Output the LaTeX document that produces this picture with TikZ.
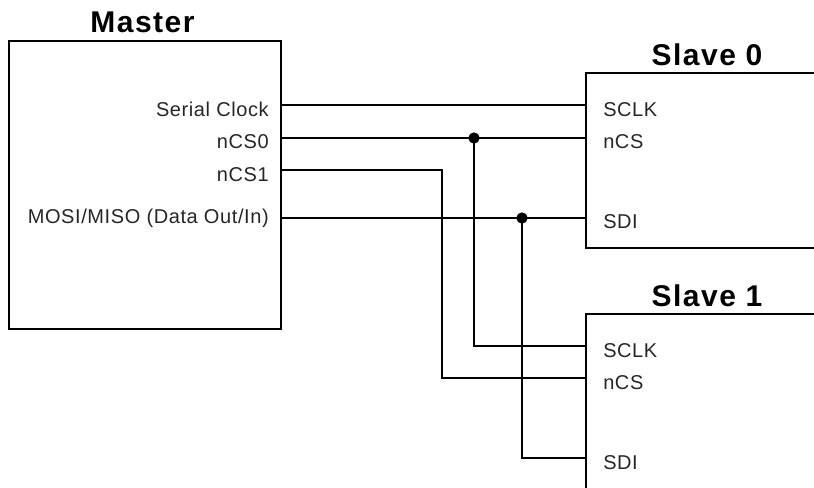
\documentclass[tikz,border=0pt]{standalone}
\usepackage{fontspec}
\setmainfont{Liberation Sans}
\newfontfamily\lblfont[LetterSpace=3]{Liberation Sans}
\newfontfamily\ttlfont[LetterSpace=5]{Liberation Sans}
\begin{document}
\begin{tikzpicture}[x=0.75pt,y=-0.75pt,
  box/.style={draw, line width=1.4pt, inner sep=0pt, outer sep=0pt, anchor=north west},
  ttl/.style={font=\ttlfont\bfseries\fontsize{22.5}{26}\selectfont, anchor=base, inner sep=0pt},
  lblR/.style={font=\lblfont\fontsize{15}{18}\selectfont, anchor=base east, inner sep=0pt, text=black!85},
  lblL/.style={font=\lblfont\fontsize{15}{18}\selectfont, anchor=base west, inner sep=0pt, text=black!85},
  wire/.style={draw, line width=1.4pt},
  jdot/.style={circle, fill=black, inner sep=0pt, minimum size=8.5pt}]
\clip (0,0) rectangle (814,487);
\fill[white] (0,0) rectangle (814,487);
% boxes
\node[box, minimum width=204pt, minimum height=216pt] (master) at (9,41) {};
\node[box, minimum width=183pt, minimum height=131.25pt] (slave0) at (586,73) {};
\node[box, minimum width=183pt, minimum height=154.5pt] (slave1) at (586,314) {};
% titles
\node[ttl] (tmaster) at (142.5,32) {Master};
\node[ttl] (tslave0) at (707,65) {Slave 0};
\node[ttl] (tslave1) at (707,306) {Slave 1};
% master labels
\node[lblR] (lsc) at (269,116) {Serial Clock};
\node[lblR] (lcs0) at (269,148) {nCS0};
\node[lblR] (lcs1) at (269,181) {nCS1};
\node[lblR] (ldat) at (269,223) {MOSI/MISO (Data Out/In)};
% slave 0 labels
\node[lblL] (s0lsc) at (603,116) {SCLK};
\node[lblL] (s0lcs) at (603,148) {nCS};
\node[lblL] (s0lsdi) at (603,228) {SDI};
% slave 1 labels
\node[lblL] (s1lsc) at (603,357) {SCLK};
\node[lblL] (s1lcs) at (603,389) {nCS};
\node[lblL] (s1lsdi) at (603,469) {SDI};
% ports
\coordinate (msc) at (281,105);
\coordinate (mcs0) at (281,138);
\coordinate (mcs1) at (281,170);
\coordinate (mdat) at (281,218);
\coordinate (s0sc) at (586,105);
\coordinate (s0cs) at (586,138);
\coordinate (s0sdi) at (586,218);
\coordinate (s1sc) at (586,346);
\coordinate (s1cs) at (586,378);
\coordinate (s1sdi) at (586,458);
\coordinate (bend) at (442,170);
% wires
\path[wire] (msc) -- (s0sc);
\path[wire] (mcs0) -- (s0cs);
\path[wire] (mdat) -- (s0sdi);
\path[wire] (mcs1) -- (bend) |- (s1cs);
\node[jdot] (j1) at (474,138) {};
\node[jdot] (j2) at (522,218) {};
\path[wire] (j1.center) |- (s1sc);
\path[wire] (j2.center) |- (s1sdi);
\end{tikzpicture}
\end{document}
